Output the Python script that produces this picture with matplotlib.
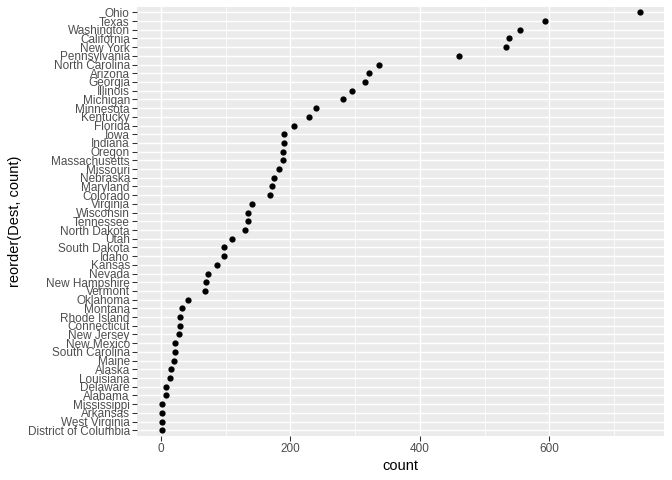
import numpy as np
import matplotlib
matplotlib.use("Agg")
from matplotlib import pyplot as plt
from matplotlib.ticker import MultipleLocator

plt.rcParams['font.family'] = ['Liberation Sans', 'DejaVu Sans']

# destinations, sorted from highest count to lowest
dest = ["Ohio", "Texas", "Washington", "California", "New York", "Pennsylvania",
        "North Carolina", "Arizona", "Georgia", "Illinois", "Michigan", "Minnesota",
        "Kentucky", "Florida", "Iowa", "Indiana", "Oregon", "Massachusetts",
        "Missouri", "Nebraska", "Maryland", "Colorado", "Virginia", "Wisconsin",
        "Tennessee", "North Dakota", "Utah", "South Dakota", "Idaho", "Kansas",
        "Nevada", "New Hampshire", "Vermont", "Oklahoma", "Montana", "Rhode Island",
        "Connecticut", "New Jersey", "New Mexico", "South Carolina", "Maine",
        "Alaska", "Louisiana", "Delaware", "Alabama", "Mississippi", "Arkansas",
        "West Virginia", "District of Columbia"]
count = [740, 594, 555, 538, 533, 461,
         336, 322, 315, 295, 281, 239,
         229, 205, 190, 190, 188, 188,
         182, 174, 172, 168, 141, 134,
         134, 130, 109, 98, 97, 86,
         73, 70, 68, 41, 32, 29,
         29, 27, 22, 21, 20,
         16, 14, 7, 7, 2, 2,
         1, 1]

fig = plt.figure(figsize=(7, 5), dpi=96)
ax = fig.add_axes([0.204, 0.0927, 0.784, 0.8925])
ax.set_facecolor("#EBEBEB")

y = np.arange(len(dest))[::-1]
ax.scatter(count, y, s=22, color="black", zorder=3, linewidths=0)

lo, hi = 0, max(count)
pad = (hi - lo) * 0.05
ax.set_xlim(lo - pad, hi + pad)
ax.set_ylim(-0.6, len(dest) - 1 + 0.6)

ax.xaxis.set_major_locator(MultipleLocator(200))
ax.xaxis.set_minor_locator(MultipleLocator(100))
ax.set_yticks(y)
ax.set_yticklabels(dest)

ax.grid(which="major", color="white", linewidth=1.1, zorder=0)
ax.grid(which="minor", axis="x", color="white", linewidth=0.55, zorder=0)
ax.set_axisbelow(True)
for s in ax.spines.values():
    s.set_visible(False)

ax.tick_params(axis="both", which="major", length=3.5, width=0.8, color="#333333",
               labelsize=8.8, labelcolor="#4D4D4D", pad=2)
ax.tick_params(axis="x", which="minor", length=0)

ax.set_xlabel("count", fontsize=11, labelpad=3)
ax.set_ylabel("reorder(Dest, count)", fontsize=11, labelpad=4)

fig.savefig("out.png", dpi=96)
